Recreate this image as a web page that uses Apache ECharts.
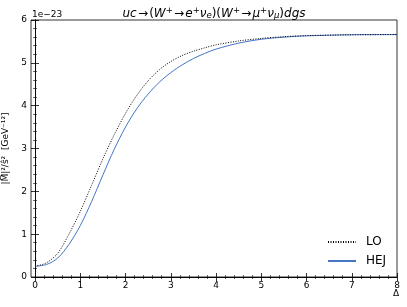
<!DOCTYPE html>
<html><head><meta charset="utf-8">
<script src="https://cdn.jsdelivr.net/npm/echarts@6/dist/echarts.min.js"></script>
<style>html,body{margin:0;padding:0;background:#fff}#c{width:407px;height:307px}</style>
</head><body><div id="c"></div>
<script>
const delta = [0, 0.25, 0.5, 0.75, 1.0, 1.25, 1.5, 1.75, 2.0, 2.25, 2.5, 2.75, 3.0, 3.25, 3.5, 3.75, 4.0, 4.5, 5.0, 5.5, 6.0, 7.0, 8.0];
const loValues = [0.25, 0.33, 0.55, 1.00, 1.53, 2.14, 2.76, 3.32, 3.82, 4.24, 4.58, 4.84, 5.03, 5.17, 5.27, 5.35, 5.42, 5.51, 5.57, 5.61, 5.635, 5.655, 5.66];
const hejValues = [0.25, 0.29, 0.44, 0.76, 1.20, 1.76, 2.38, 2.98, 3.50, 3.93, 4.27, 4.55, 4.77, 4.95, 5.10, 5.22, 5.32, 5.46, 5.55, 5.60, 5.63, 5.655, 5.66];
const xTicks = [0, 1, 2, 3, 4, 5, 6, 7, 8];
const yTicks = [0, 1, 2, 3, 4, 5, 6];
const seriesNames = ['LO', 'HEJ'];

const F = 'DejaVu Sans';
const chart = echarts.init(document.getElementById('c'), null, {renderer: 'canvas'});
const pairs = a => delta.map((d, i) => [d, a[i]]);
const axisCommon = {
  type: 'value', splitLine: {show: false},
  axisLine: {show: true, lineStyle: {color: '#000', width: 0.8}},
  axisTick: {show: true, inside: true, length: 4, lineStyle: {color: '#000', width: 0.8}},
  minorTick: {show: true, splitNumber: 5, length: 2, lineStyle: {color: '#000', width: 0.6}}
};
const T = '\u200A';
chart.setOption({
  animation: false,
  backgroundColor: '#fff',
  title: {
    text: '{i|uc}' + T + '→' + T + '({i|W}{sup|+}' + T + '→' + T + '{i|e}{sup|+}{i|ν}{sub|e})({i|W}{sup|+}' + T + '→' + T + '{i|μ}{sup|+}{i|ν}{sub|μ}){i|dgs}',
    left: 209, textAlign: 'center', top: 1,
    textStyle: {
      fontFamily: F, fontSize: 12, fontWeight: 'normal', color: '#000',
      rich: {
        i: {fontFamily: F, fontSize: 12, fontStyle: 'italic', color: '#000'},
        sup: {fontFamily: F, fontSize: 8.5, fontStyle: 'italic', color: '#000', padding: [0, 0, 6, 0]},
        sub: {fontFamily: F, fontSize: 8.5, fontStyle: 'italic', color: '#000', padding: [5, 0, 0, 0]}
      }
    }
  },
  grid: {left: 35, right: 10, top: 20, bottom: 30, containLabel: false, outerBoundsMode: 'none'},
  legend: {
    orient: 'vertical', left: 322, top: 231, itemWidth: 28, itemHeight: 12, itemGap: 7,
    itemStyle: {opacity: 0},
    textStyle: {fontFamily: F, fontSize: 12, color: '#000', padding: [0, 0, 0, 5]},
    data: seriesNames
  },
  xAxis: [
    Object.assign({}, axisCommon, {position: 'bottom', min: xTicks[0], max: xTicks[xTicks.length - 1], interval: 1,
      axisLabel: {fontFamily: F, fontSize: 9, color: '#000', margin: 4}}),
    Object.assign({}, axisCommon, {position: 'top', min: xTicks[0], max: xTicks[xTicks.length - 1], interval: 1,
      axisLabel: {show: false}})
  ],
  yAxis: [
    Object.assign({}, axisCommon, {position: 'left', offset: 4, min: yTicks[0], max: yTicks[yTicks.length - 1], interval: 1,
      axisLabel: {fontFamily: F, fontSize: 9, color: '#000', margin: 4},
      name: '|M̅|²/ŝ²  [GeV⁻¹²]', nameLocation: 'middle', nameGap: 16, nameRotate: 90,
      nameTextStyle: {fontFamily: F, fontSize: 9, color: '#000'}}),
    Object.assign({}, axisCommon, {position: 'right', min: yTicks[0], max: yTicks[yTicks.length - 1], interval: 1,
      axisLabel: {show: false}})
  ],
  graphic: [
    {type: 'rect', shape: {x: 31, y: 20, width: 366, height: 257}, style: {fill: 'none', stroke: '#000', lineWidth: 0.8}, silent: true, z: 100},
    {type: 'text', left: 32, top: 10, style: {text: '1e−23', font: '9px "DejaVu Sans"', fill: '#000'}},
    {type: 'text', left: 393, top: 289, style: {text: 'Δ', font: '9px "DejaVu Sans"', fill: '#000'}}
  ],
  series: [
    {name: seriesNames[0], type: 'line', data: pairs(loValues), smooth: 0.3, symbol: 'none',
      lineStyle: {color: '#000', width: 1, type: [1, 1.5]}, itemStyle: {color: '#000'}, z: 3},
    {name: seriesNames[1], type: 'line', data: pairs(hejValues), smooth: 0.3, symbol: 'none',
      lineStyle: {color: '#4575c4', width: 1}, itemStyle: {color: '#4575c4'}, z: 2}
  ]
});
</script></body></html>
